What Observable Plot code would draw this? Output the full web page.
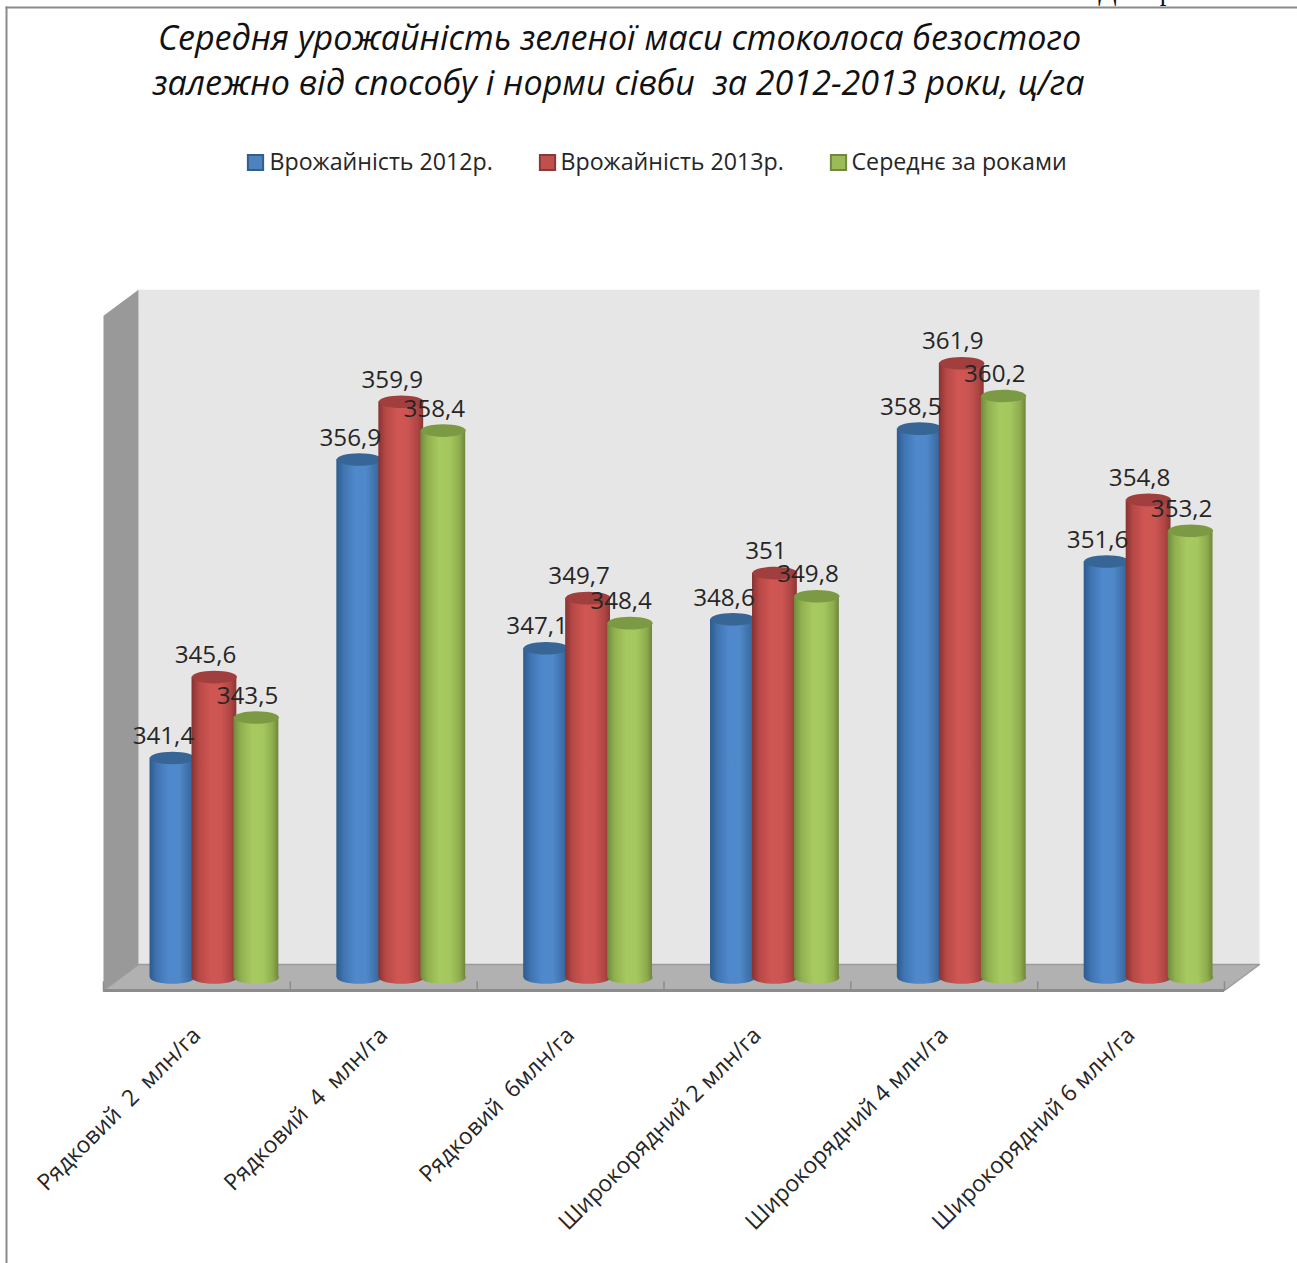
<!DOCTYPE html>
<html lang="uk">
<head>
<meta charset="utf-8">
<style>
  html, body { margin: 0; padding: 0; background: #fff; }
  svg { display: block; }
</style>
<script src="https://cdn.jsdelivr.net/npm/d3@7"></script>
<script src="https://cdn.jsdelivr.net/npm/@observablehq/plot@0.6"></script>
</head>
<body>
<script>
// Chart values
const categories = ["Рядковий  2  млн/га", "Рядковий  4  млн/га", "Рядковий  6млн/га", "Широкорядний 2 млн/га", "Широкорядний 4 млн/га", "Широкорядний 6 млн/га"];
const yield2012 = [341.4, 356.9, 347.1, 348.6, 358.5, 351.6];
const yield2013 = [345.6, 359.9, 349.7, 351, 361.9, 354.8];
const yieldMean = [343.5, 358.4, 348.4, 349.8, 360.2, 353.2];
const seriesNames = ["Врожайність 2012р.", "Врожайність 2013р.", "Середнє за роками"];
const titleLines = ["Середня урожайність зеленої маси стоколоса безостого", "залежно від способу і норми сівби  за 2012-2013 роки, ц/га"];
const pageFragments = ["Д", "р"];

// Appearance of each series: body gradient stops, lid colour, swatch colours
const looks = [
  {id: "blue", stops: ["#2c5b8e", "#3f74b0", "#4f88cc", "#5089c9", "#3d6fa8", "#315f92"], lid: "#376596", swatch: "#4f81bd", edge: "#2f5f92"},
  {id: "red", stops: ["#873231", "#b64846", "#cf5653", "#cc5552", "#ad4543", "#8a3533"], lid: "#a03f3d", swatch: "#c0504d", edge: "#8c3836"},
  {id: "green", stops: ["#6f8b3c", "#90b04f", "#a7c960", "#a5c75f", "#8dab4c", "#6c873a"], lid: "#7c9a44", swatch: "#9bbb59", edge: "#71893f"}
];

const font = "'Open Sans', sans-serif";
const barRadius = 22.5;   // px, half the width of a cylinder
const halfWidth = 0.12;   // same half width in category units
const seriesStep = 0.2248;
const depthX = 0.1875;    // horizontal run of the 3D floor in category units
const depthShift = depthX / 2;
const floorFront = 329.325, floorBack = 330.675, wallTopFront = 364.36, wallTopBack = 365.72;

const rows = (values, s) => values.map((value, i) => ({
  value,
  center: i + 0.5 + depthShift + (s - 1) * seriesStep,
  label: String(value).replace(".", ",")
}));

// Flattened circle used for the lid and the foot of each cylinder
const ellipse = {
  draw(context, size) {
    const rx = Math.sqrt(size / Math.PI), ry = rx * 0.28, k = 0.5523;
    context.moveTo(-rx, 0);
    context.bezierCurveTo(-rx, -k * ry, -k * rx, -ry, 0, -ry);
    context.bezierCurveTo(k * rx, -ry, rx, -k * ry, rx, 0);
    context.bezierCurveTo(rx, k * ry, k * rx, ry, 0, ry);
    context.bezierCurveTo(-k * rx, ry, -rx, k * ry, -rx, 0);
    context.closePath();
  }
};

// Horizontal gradients that give the cylinders their roundness
function gradients() {
  const defs = d3.create("svg:defs");
  const offsets = [0, 0.16, 0.42, 0.66, 0.88, 1];
  for (const look of looks) {
    const g = defs.append("linearGradient").attr("id", `body-${look.id}`).attr("x1", 0).attr("x2", 1).attr("y1", 0).attr("y2", 0);
    look.stops.forEach((c, i) => g.append("stop").attr("offset", offsets[i]).attr("stop-color", c));
  }
  return defs.node();
}

const cylinders = [yield2012, yield2013, yieldMean].flatMap((values, s) => {
  const data = rows(values, s);
  const look = looks[s];
  const body = `url(#body-${look.id})`;
  return [
    Plot.dot(data, {x: "center", y: () => 330, r: barRadius, symbol: ellipse, fill: body, stroke: null}),
    Plot.rect(data, {x1: d => d.center - halfWidth, x2: d => d.center + halfWidth, y1: () => 330, y2: "value", fill: body, inset: 0}),
    Plot.dot(data, {x: "center", y: "value", r: barRadius, symbol: ellipse, fill: look.lid, stroke: null})
  ];
});

const allRows = [yield2012, yield2013, yieldMean].flatMap(rows);
const swatchX = [255, 547, 838];
const legendTextX = [269, 560, 851];
const serif = "'Liberation Serif', serif";

const chart = Plot.plot({
  width: 1297,
  height: 1263,
  margin: 0,
  style: {background: "#fff", overflow: "hidden"},
  x: {domain: [0, 6], range: [103, 1224], axis: null},
  y: {domain: [330, 365], range: [977, 303], axis: null},
  marks: [
    gradients,
    // Outer chart border
    Plot.frame({anchor: "top", insetTop: 7, insetLeft: 6, stroke: "#8a8a8a", strokeWidth: 2}),
    Plot.frame({anchor: "left", insetLeft: 6, insetTop: 7, stroke: "#8a8a8a", strokeWidth: 2}),
    // Bottom of the line of page text running above the chart
    Plot.text([pageFragments[0]], {text: d => d, frameAnchor: "top-left", dx: 1107, dy: -1, textAnchor: "middle", lineAnchor: "bottom", fontFamily: serif, fontSize: 27, fill: "#111"}),
    Plot.text([pageFragments[1]], {text: d => d, frameAnchor: "top-left", dx: 1166, dy: -1, textAnchor: "middle", lineAnchor: "bottom", fontFamily: serif, fontSize: 27, fill: "#111"}),
    // Back wall, side wall and floor of the 3D box
    Plot.line([[depthX, floorBack], [depthX, wallTopBack], [6 + depthX, wallTopBack], [6 + depthX, floorBack]], {fill: "#e6e6e6", stroke: null}),
    Plot.line([[0, floorFront], [0, wallTopFront], [depthX, wallTopBack], [depthX, floorBack]], {fill: "#999999", stroke: null}),
    Plot.line([[0, floorFront], [depthX, floorBack], [6 + depthX, floorBack], [6, floorFront]], {fill: "#b1b1b1", stroke: null}),
    Plot.line([[0, floorFront], [depthX, floorBack], [6 + depthX, floorBack], [6, floorFront]], {stroke: "#9b9b9b", strokeWidth: 1.5}),
    Plot.ruleY([floorFront], {x1: 0, x2: 6, stroke: "#8c8c8c", strokeWidth: 3}),
    Plot.ruleX(d3.range(7), {y1: floorFront, y2: floorFront + 0.45, stroke: "#8c8c8c", strokeWidth: 1.5}),
    ...cylinders,
    // Value labels
    Plot.text(allRows, {x: "center", y: "value", text: "label", dx: -9, dy: -21.5, fontFamily: font, fontSize: 24.2, fill: "#262626"}),
    // Category labels
    Plot.text(categories, {x: (d, i) => i + 0.5, y: () => 330, text: d => d, rotate: -45, textAnchor: "end", dx: 0, dy: 54, fontFamily: font, fontSize: 22.9, fill: "#262626"}),
    // Title
    Plot.text([titleLines[0]], {text: d => d, frameAnchor: "top-left", dx: 619, dy: 39, textAnchor: "middle", lineAnchor: "middle", fontFamily: font, fontStyle: "italic", fontSize: 34.1, fill: "#111"}),
    Plot.text([titleLines[1]], {text: d => d, frameAnchor: "top-left", dx: 618, dy: 84, textAnchor: "middle", lineAnchor: "middle", fontFamily: font, fontStyle: "italic", fontSize: 34.1, fill: "#111"}),
    // Legend
    ...seriesNames.flatMap((name, s) => [
      Plot.dot([name], {frameAnchor: "top-left", dx: swatchX[s], dy: 162, symbol: "square", r: 8.6, fill: looks[s].swatch, stroke: looks[s].edge, strokeWidth: 2}),
      Plot.text([name], {text: d => d, frameAnchor: "top-left", dx: legendTextX[s], dy: 162, textAnchor: "start", lineAnchor: "middle", fontFamily: font, fontSize: 23.2, fill: "#262626"})
    ])
  ]
});
document.body.append(chart);
</script>
</body>
</html>
